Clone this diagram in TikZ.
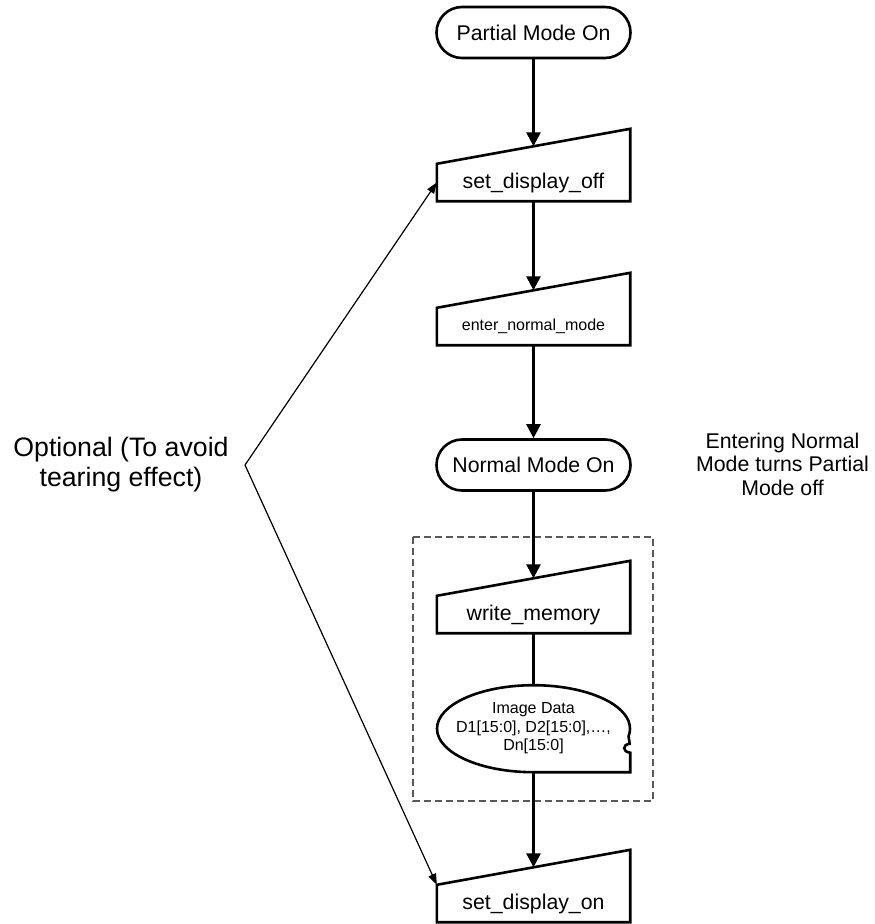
\documentclass[tikz,border=0pt]{standalone}
\usepackage{fontspec}
\setmainfont{Liberation Sans}
\usetikzlibrary{shapes.misc,arrows.meta,calc}
\begin{document}
\begin{tikzpicture}[x=1pt,y=1pt,
  outline/.style={line width=2.6pt, line join=miter},
  term/.style={rounded rectangle, draw, line width=2.6pt, minimum width=194pt, minimum height=51pt, inner sep=0pt, font=\fontsize{21.3}{25}\selectfont},
  mbox/.style={minimum width=193pt, minimum height=37pt, inner sep=0pt, font=\fontsize{21.3}{25}\selectfont},
  flow/.style={line width=2.6pt, -{Triangle[length=14pt,width=14pt]}},
  optline/.style={line width=1.2pt, -{Triangle[length=11pt,width=8pt]}},
  note/.style={align=center, inner sep=0pt},
  dashbox/.style={draw=black!65, line width=1.1pt, dash pattern=on 7pt off 4pt}
]
\useasboundingbox (0,0) rectangle (875,-924);

% terminals
\node[term] (pmo) at (533.5,-32.5) {Partial Mode On};
\node[term] (nmo) at (533.5,-465) {Normal Mode On};

% manual input boxes
\node[mbox] (sdoff) at (533.5,-182.5) {set\_display\_off};
\node[mbox, font=\fontsize{16}{19}\selectfont] (enm) at (533.5,-326.5) {enter\_normal\_mode};
\node[mbox] (wm) at (533.5,-614.5) {write\_memory};
\node[mbox] (sdon) at (533.5,-903.5) {set\_display\_on};

\foreach \n in {sdoff,enm,wm,sdon}{
  \draw[outline] (\n.south west) -- (\n.south east) -- ([yshift=35pt]\n.north east) -- (\n.north west) -- cycle;
  \coordinate (\n-top) at ($(\n.north)+(0,17.5)$);
}

% image data
\node[note, font=\fontsize{16}{18.5}\selectfont, minimum width=193pt, minimum height=87pt] (img) at (533.5,-728.5)
  {Image Data\\D1[15:0], D2[15:0],\ldots,\\Dn[15:0]};
\draw[outline] (img.south) arc[start angle=270, end angle=-10, x radius=96.5, y radius=43.5]
  -- ($(img.south east)+(-0.5,28.5)$)
  .. controls ($(img.south east)+(-8,27.5)$) and ($(img.south east)+(-8,20.5)$) .. ($(img.south east)+(0,19.5)$)
  -- (img.south east) -- cycle;

% dashed group
\draw[dashbox] (413,-537) rectangle (653,-801);

% flow connectors
\draw[flow] (pmo.south) -- (sdoff-top);
\draw[flow] (sdoff.south) -- (enm-top);
\draw[flow] (enm.south) -- (nmo.north);
\draw[flow] (nmo.south) -- (wm-top);
\draw[outline] (wm.south) -- (img.north);
\draw[flow] (img.south) -- (sdon-top);

% optional bracket
\coordinate (v) at (245,-465);
\draw[optline] (v) -- (sdoff.west);
\draw[optline] (v) -- (sdon.north west);

\node[note, font=\fontsize{26.7}{30}\selectfont] (opt) at (121,-465) {Optional (To avoid\\tearing effect)};
\node[note, font=\fontsize{21.3}{23.5}\selectfont] (ent) at (782.5,-464) {Entering Normal\\Mode turns Partial\\Mode off};
\end{tikzpicture}
\end{document}
